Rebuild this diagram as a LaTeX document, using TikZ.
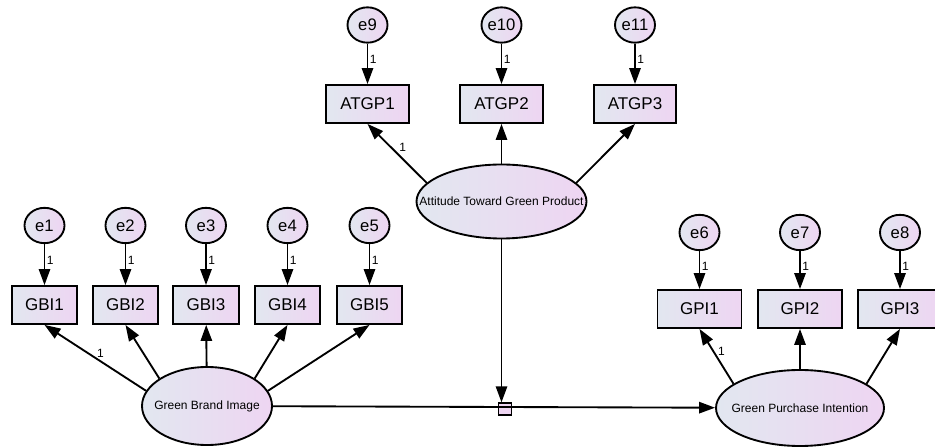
\documentclass[tikz,border=0pt]{standalone}
\usepackage{fontspec}
\setmainfont{Liberation Sans}
\usetikzlibrary{arrows.meta,shapes.geometric}
\definecolor{amosleft}{RGB}{226,231,240}
\definecolor{amosright}{RGB}{238,213,242}

\begin{document}
\begin{tikzpicture}[x=0.75pt,y=-0.75pt,
		obs/.style={draw,line width=1.4pt,left color=amosleft,right color=amosright,minimum height=28.5pt,inner sep=0pt,font=\fontsize{12.75}{12.75}\selectfont},
		err/.style={ellipse,draw,line width=1.4pt,left color=amosleft,right color=amosright,minimum width=30pt,minimum height=26.5pt,inner sep=0pt,font=\fontsize{12.5}{12.5}\selectfont},
		lat/.style={ellipse,draw,line width=1.4pt,left color=amosleft,right color=amosright,inner sep=0pt},
		every label/.append style={font=\fontsize{9}{9}\selectfont,inner sep=0pt},
		arr/.style={line width=1.4pt,-{Triangle[length=12pt,width=8.5pt]}},
		one/.style={font=\fontsize{9}{9}\selectfont,inner sep=1pt}]
			\useasboundingbox (0,0) rectangle (935,448);

			\node[err] (e1) at (44.5,225.5) {e1};
			\node[err] (e2) at (125.5,225.5) {e2};
			\node[err] (e3) at (206,225.5) {e3};
			\node[err] (e4) at (287.5,225.5) {e4};
			\node[err] (e5) at (369.5,225.5) {e5};
			\node[obs,minimum width=49pt] (gbi1) at (44.5,305) {GBI1};
			\node[obs,minimum width=49pt] (gbi2) at (125.5,305) {GBI2};
			\node[obs,minimum width=49pt] (gbi3) at (206,305) {GBI3};
			\node[obs,minimum width=49pt] (gbi4) at (287.5,305) {GBI4};
			\node[obs,minimum width=49pt] (gbi5) at (369.5,305) {GBI5};
			\node[lat,minimum width=97.5pt,minimum height=58.5pt,label=center:Green Brand Image] (gbi) at (207,406) {};

			\node[err] (e9) at (367.5,25) {e9};
			\node[err] (e10) at (501.5,25) {e10};
			\node[err] (e11) at (635,25) {e11};
			\node[obs,minimum width=62pt] (atgp1) at (367.5,104) {ATGP1};
			\node[obs,minimum width=62pt] (atgp2) at (501.5,104) {ATGP2};
			\node[obs,minimum width=62pt] (atgp3) at (635,104) {ATGP3};
			\node[lat,minimum width=127.5pt,minimum height=55.5pt,label=center:Attitude Toward Green Product] (atgp) at (501.5,201.5) {};

			\node[err] (e6) at (699.5,232.5) {e6};
			\node[err] (e7) at (800,232.5) {e7};
			\node[err] (e8) at (900,232.5) {e8};
			\node[obs,minimum width=63pt] (gpi1) at (699.5,309) {GPI1};
			\node[obs,minimum width=63pt] (gpi2) at (800,309) {GPI2};
			\node[obs,minimum width=63pt] (gpi3) at (900,309) {GPI3};
			\node[lat,minimum width=126pt,minimum height=57pt,label=center:Green Purchase Intention] (gpi) at (800,408) {};

			\node[draw,line width=1pt,fill=amosright,minimum width=9.75pt,minimum height=9pt,inner sep=0pt] (sq) at (505,409) {};

			\draw[arr] (e1) -- (gbi1) node[one,pos=0.4,right]{1};
			\draw[arr] (e2) -- (gbi2) node[one,pos=0.4,right]{1};
			\draw[arr] (e3) -- (gbi3) node[one,pos=0.4,right]{1};
			\draw[arr] (e4) -- (gbi4) node[one,pos=0.4,right]{1};
			\draw[arr] (e5) -- (gbi5) node[one,pos=0.4,right]{1};
			\draw[arr] (e9) -- (atgp1) node[one,pos=0.4,right]{1};
			\draw[arr] (e10) -- (atgp2) node[one,pos=0.4,right]{1};
			\draw[arr] (e11) -- (atgp3) node[one,pos=0.4,right]{1};
			\draw[arr] (e6) -- (gpi1) node[one,pos=0.4,right]{1};
			\draw[arr] (e7) -- (gpi2) node[one,pos=0.4,right]{1};
			\draw[arr] (e8) -- (gpi3) node[one,pos=0.4,right]{1};

			\draw[arr] (gbi.166) -- (gbi1.south) node[one,pos=0.45,above=1pt]{1};
			\draw[arr] (gbi.150) -- (gbi2.south);
			\draw[arr] (gbi) -- (gbi3);
			\draw[arr] (gbi.30) -- (gbi4.south);
			\draw[arr] (gbi.14) -- (gbi5.south);

			\draw[arr] (atgp.166) -- (atgp1.south) node[one,pos=0.5,above right]{1};
			\draw[arr] (atgp) -- (atgp2);
			\draw[arr] (atgp.14) -- (atgp3.south);

			\draw[arr] (gpi.160) -- (gpi1.south) node[one,pos=0.6,right=2pt]{1};
			\draw[arr] (gpi) -- (gpi2);
			\draw[arr] (gpi.20) -- (gpi3.south);

			\draw[arr] (gbi) -- (gpi);
			\draw[arr] (atgp) -- (atgp |- sq.north);
		\end{tikzpicture}
\end{document}
